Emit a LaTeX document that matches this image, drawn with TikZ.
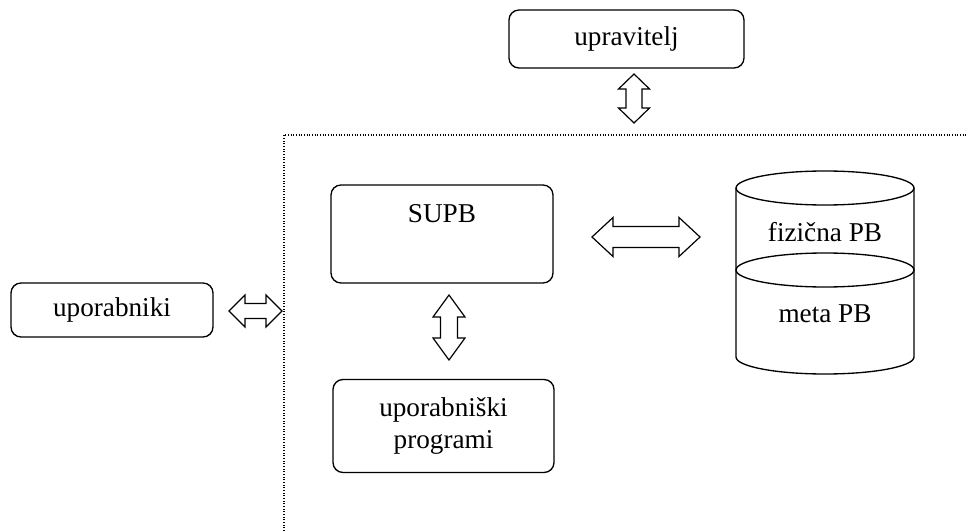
\documentclass[tikz,border=0pt]{standalone}
\usepackage{fontspec}
\setmainfont{Liberation Serif}
\begin{document}
\begin{tikzpicture}[x=0.75pt,y=-0.75pt,
  box/.style={draw,line width=1pt,rounded corners=7.5pt,inner sep=0pt},
  blk/.style={draw,line width=0.9pt,fill=white,line join=miter},
  lbl/.style={font=\fontsize{20.4}{24.5}\selectfont,align=center,inner sep=0pt}]
\useasboundingbox (0,0) rectangle (967,531);
% boundary of the system
\draw[line width=0.8pt,dash pattern=on 0.8pt off 1.2pt] (284,531) -- (284,135) -- (967,135);
% boxes
\node[box,minimum width=235*0.75pt,minimum height=58*0.75pt] (upr) at (626.5,39) {};
\node[lbl] at (upr.center) {upravitelj};
\node[box,minimum width=202*0.75pt,minimum height=54*0.75pt] (upo) at (112,310) {};
\node[lbl] at (upo.center) {uporabniki};
\node[box,minimum width=222*0.75pt,minimum height=98*0.75pt] (supb) at (442,234) {};
\node[lbl,anchor=base] at (442,222) {SUPB};
\node[box,minimum width=221*0.75pt,minimum height=93*0.75pt] (prog) at (443.5,426) {};
\node[lbl] at (prog.center) {uporabniški\\programi};
% database cylinder
\coordinate (db) at (825,188);
\draw[line width=1pt] (736,188) -- (736,357) arc[start angle=180,end angle=0,x radius=89,y radius=17] -- (914,188);
\draw[line width=1pt] (db) ellipse[x radius=89,y radius=17];
\draw[line width=1pt] (825,270) ellipse[x radius=89,y radius=17];
\node[lbl] (fiz) at (825,232) {fizična PB};
\node[lbl] (meta) at (825,314) {meta PB};
% block double arrows
\newcommand\harrowblk[6]{%
 \draw[blk] (#1,#3) -- (#1+#4,#3-#5) -- (#1+#4,#3-#6) -- (#2-#4,#3-#6) -- (#2-#4,#3-#5) -- (#2,#3)
  -- (#2-#4,#3+#5) -- (#2-#4,#3+#6) -- (#1+#4,#3+#6) -- (#1+#4,#3+#5) -- cycle;}
\newcommand\varrowblk[6]{%
 \draw[blk] (#3,#1) -- (#3-#5,#1+#4) -- (#3-#6,#1+#4) -- (#3-#6,#2-#4) -- (#3-#5,#2-#4) -- (#3,#2)
  -- (#3+#5,#2-#4) -- (#3+#6,#2-#4) -- (#3+#6,#1+#4) -- (#3+#5,#1+#4) -- cycle;}
\varrowblk{74}{123}{634}{15}{15.5}{8}
\varrowblk{295}{360}{449}{22}{16}{8.5}
\harrowblk{229}{282}{311}{16}{16}{7.5}
\harrowblk{592}{700}{237}{21}{19.5}{10.5}
\end{tikzpicture}
\end{document}
